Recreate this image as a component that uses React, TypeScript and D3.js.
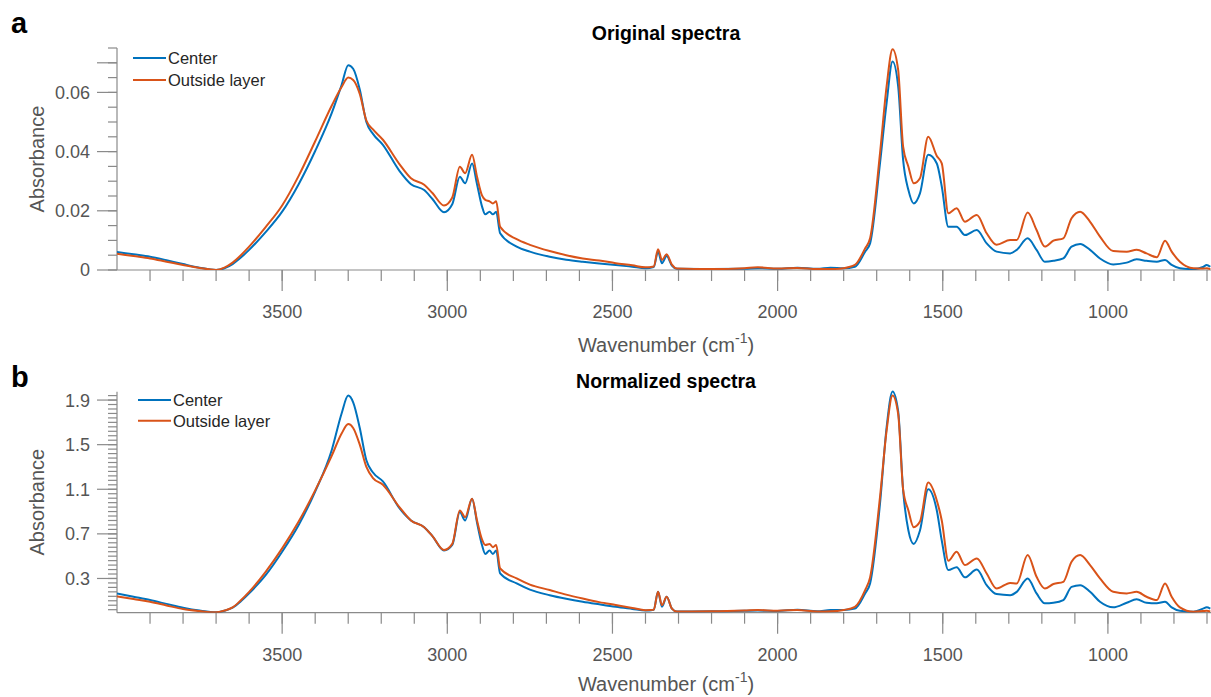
import React from "react";
import * as d3 from "d3";

// Wavenumber grid (cm^-1), high to low
const wavenumbers = [
  4000, 3950, 3900, 3850, 3800, 3750, 3700, 3675, 3650, 3625, 3600, 3550, 3500, 3450, 3400, 3350,
  3320, 3300, 3285, 3265, 3245, 3225, 3195, 3145, 3110, 3070, 3045, 3010, 2985, 2962, 2946, 2925,
  2910, 2895, 2885, 2872, 2862, 2852, 2840, 2790, 2750, 2690, 2640, 2590, 2540, 2490, 2440, 2400,
  2375, 2362, 2350, 2336, 2320, 2305, 2200, 2100, 2060, 2000, 1940, 1880, 1840, 1800, 1766, 1735,
  1720, 1690, 1670, 1652, 1635, 1620, 1604, 1588, 1569, 1544, 1518, 1503, 1483, 1458, 1433, 1397,
  1367, 1337, 1296, 1276, 1243, 1216, 1191, 1165, 1135, 1110, 1084, 1054, 1024, 984, 943, 913,
  883, 852, 827, 807, 782, 741, 712, 701, 690,
];

// Panel a: original absorbance
const originalCenter = [
  0.0061, 0.0053, 0.0045, 0.0033, 0.002, 0.0008, 0.0, 0.0006, 0.002, 0.0042, 0.0068, 0.0128, 0.0197, 0.029, 0.0402, 0.053,
  0.0625, 0.0692, 0.068, 0.061, 0.05, 0.046, 0.0423, 0.0335, 0.029, 0.027, 0.024, 0.0195, 0.0222, 0.0315, 0.0293, 0.036,
  0.029, 0.0215, 0.0188, 0.0197, 0.0188, 0.0197, 0.0124, 0.0079, 0.0062, 0.0045, 0.0035, 0.0028, 0.0022, 0.0017, 0.0011, 0.0006,
  0.001, 0.0062, 0.0023, 0.0047, 0.0015, 0.0004, 0.0003, 0.0004, 0.0006, 0.0004, 0.0008, 0.0004, 0.0008, 0.0006, 0.0011, 0.0062,
  0.009, 0.036, 0.0564, 0.0704, 0.062, 0.0372, 0.027, 0.0225, 0.0259, 0.0389, 0.036, 0.0282, 0.0146, 0.0146, 0.0118, 0.0135,
  0.009, 0.0062, 0.0056, 0.0068, 0.0107, 0.0068, 0.0028, 0.0031, 0.0039, 0.0079, 0.0088, 0.0068, 0.0039, 0.0019, 0.0025, 0.0036,
  0.0031, 0.0028, 0.0034, 0.0017, 0.0006, 0.0003, 0.001, 0.0017, 0.0011,
];
const originalOutside = [
  0.0055, 0.0047, 0.0039, 0.0028, 0.0017, 0.0007, 0.0, 0.0008, 0.0025, 0.005, 0.0079, 0.0145, 0.0218, 0.0318, 0.0435, 0.0555,
  0.0618, 0.065, 0.0642, 0.0595, 0.0505, 0.0475, 0.044, 0.0358, 0.031, 0.0288, 0.026, 0.0218, 0.0245, 0.0349, 0.0327, 0.0389,
  0.0315, 0.0252, 0.0237, 0.0232, 0.0225, 0.0232, 0.0146, 0.0104, 0.0085, 0.0064, 0.005, 0.0039, 0.0032, 0.0023, 0.0016, 0.0009,
  0.0012, 0.007, 0.0034, 0.0053, 0.0018, 0.0005, 0.0003, 0.0006, 0.0009, 0.0005, 0.0007, 0.0003, 0.0003, 0.0006, 0.0017, 0.0073,
  0.0107, 0.0394, 0.062, 0.0746, 0.0676, 0.0417, 0.0349, 0.0293, 0.031, 0.045, 0.0385, 0.036, 0.0192, 0.0209, 0.0163, 0.0186,
  0.0124, 0.0085, 0.0101, 0.0101, 0.0194, 0.0135, 0.0079, 0.0099, 0.0107, 0.0175, 0.0197, 0.0163, 0.0113, 0.0064, 0.0062, 0.0068,
  0.0056, 0.0043, 0.0099, 0.0062, 0.0028, 0.0006, 0.0005, 0.0006, 0.0003,
];

// Panel b: normalized absorbance
const normalizedCenter = [
  0.166, 0.136, 0.106, 0.072, 0.038, 0.012, -0.004, 0.01, 0.038, 0.095, 0.166, 0.33, 0.54, 0.78, 1.08, 1.45,
  1.78, 1.94, 1.88, 1.65, 1.36, 1.25, 1.17, 0.93, 0.82, 0.76, 0.68, 0.55, 0.6, 0.895, 0.82, 1.015,
  0.8, 0.6, 0.52, 0.55, 0.52, 0.55, 0.345, 0.255, 0.2, 0.15, 0.118, 0.091, 0.068, 0.046, 0.027, 0.012,
  0.02, 0.18, 0.046, 0.136, 0.03, 0.004, 0.005, 0.01, 0.012, 0.008, 0.02, 0.006, 0.017, 0.017, 0.03, 0.166,
  0.255, 0.97, 1.655, 1.977, 1.8, 1.09, 0.73, 0.61, 0.73, 1.1, 0.91, 0.64, 0.375, 0.4, 0.31, 0.38,
  0.24, 0.16, 0.15, 0.18, 0.3, 0.166, 0.077, 0.082, 0.106, 0.225, 0.24, 0.18, 0.091, 0.041, 0.082, 0.113,
  0.082, 0.077, 0.091, 0.041, 0.01, 0.002, 0.03, 0.041, 0.03,
];
const normalizedOutside = [
  0.14, 0.115, 0.091, 0.058, 0.026, 0.008, -0.004, 0.012, 0.04, 0.105, 0.18, 0.36, 0.57, 0.81, 1.09, 1.4,
  1.6, 1.685, 1.65, 1.5, 1.3, 1.2, 1.14, 0.94, 0.82, 0.76, 0.68, 0.555, 0.61, 0.91, 0.85, 1.015,
  0.82, 0.65, 0.6, 0.61, 0.58, 0.6, 0.39, 0.3, 0.245, 0.196, 0.155, 0.12, 0.088, 0.062, 0.036, 0.016,
  0.02, 0.18, 0.06, 0.136, 0.03, 0.004, 0.005, 0.012, 0.017, 0.01, 0.018, 0.004, 0.005, 0.017, 0.046, 0.196,
  0.31, 1.03, 1.625, 1.94, 1.775, 1.1, 0.91, 0.76, 0.81, 1.16, 1.0, 0.82, 0.46, 0.54, 0.42, 0.48,
  0.345, 0.21, 0.26, 0.255, 0.51, 0.315, 0.21, 0.25, 0.27, 0.45, 0.51, 0.42, 0.3, 0.18, 0.166, 0.18,
  0.136, 0.106, 0.255, 0.136, 0.041, 0.002, 0.008, 0.01, 0.004,
];

const seriesNames = ["Center", "Outside layer"];
const seriesColors = ["#0072BD", "#D95319"];

const xLabelTicks = [3500, 3000, 2500, 2000, 1500, 1000];
const xMinorTicks = d3.range(700, 4000, 100);

const yTicksOriginal = [0, 0.02, 0.04, 0.06];
const yTickLabelsOriginal = ["0", "0.02", "0.04", "0.06"];
const yLongUnlabeledOriginal = [0.07];
const yMinorOriginal = d3.range(0, 0.0751, 0.005);

const yTicksNormalized = [0.3, 0.7, 1.1, 1.5, 1.9];
const yTickLabelsNormalized = ["0.3", "0.7", "1.1", "1.5", "1.9"];
const yMinorNormalized = d3.range(0.02, 1.98, 0.04);

const FONT = '"Liberation Sans", Arial, Helvetica, sans-serif';
const AXIS = "#8a8a8a";
const LABEL = "#555555";

const W = 1211;
const H = 697;
const LEFT = 117;
const RIGHT = 1210.3;

const x = d3.scaleLinear().domain([4000, 690]).range([LEFT, RIGHT]);

type PanelProps = {
  id: string;
  letter: string;
  letterY: number;
  title: string;
  titleY: number;
  top: number;
  bottom: number;
  xLabelOffset: number;
  yDomain: [number, number];
  yTicks: number[];
  yTickLabels: string[];
  yLongExtra: number[];
  yMinor: number[];
  series: number[][];
  legendX: number;
  legendY: number;
  legendGap: number;
};

function Panel(p: PanelProps) {
  const y = d3.scaleLinear().domain(p.yDomain).range([p.bottom, p.top]);
  const line = d3
    .line<number>()
    .x((_, i) => x(wavenumbers[i]))
    .y((d) => y(d))
    .curve(d3.curveMonotoneX);

  return (
    <g>
      <defs>
        <clipPath id={p.id}>
          <rect x={LEFT} y={p.top - 4} width={RIGHT - LEFT + 2} height={p.bottom - p.top + 4} />
        </clipPath>
      </defs>

      <text x={11} y={p.letterY} fontFamily={FONT} fontWeight="bold" fontSize={29} fill="#000">
        {p.letter}
      </text>
      <text x={666} y={p.titleY} textAnchor="middle" fontFamily={FONT} fontWeight="bold" fontSize={19.5} fill="#000">
        {p.title}
      </text>

      {/* y axis */}
      <line x1={LEFT} x2={LEFT} y1={p.top} y2={p.bottom} stroke={AXIS} strokeWidth={1.2} />
      {p.yMinor.map((t) => (
        <line key={"ym" + t} x1={LEFT - 9} x2={LEFT} y1={y(t)} y2={y(t)} stroke={AXIS} strokeWidth={1.2} />
      ))}
      {[...p.yTicks, ...p.yLongExtra].map((t) => (
        <line key={"yM" + t} x1={LEFT - 20} x2={LEFT} y1={y(t)} y2={y(t)} stroke={AXIS} strokeWidth={1.2} />
      ))}
      {p.yTicks.map((t, i) => (
        <text
          key={"yl" + t}
          x={LEFT - 27}
          y={y(t)}
          dy="0.36em"
          textAnchor="end"
          fontFamily={FONT}
          fontSize={18}
          fill={LABEL}
        >
          {p.yTickLabels[i]}
        </text>
      ))}
      <text
        transform={`translate(44,${(p.top + p.bottom) / 2}) rotate(-90)`}
        textAnchor="middle"
        fontFamily={FONT}
        fontSize={20}
        fill={LABEL}
      >
        Absorbance
      </text>

      {/* x axis */}
      <line x1={LEFT} x2={W} y1={p.bottom} y2={p.bottom} stroke={AXIS} strokeWidth={1.2} />
      {xMinorTicks.map((t) => (
        <line key={"xm" + t} x1={x(t)} x2={x(t)} y1={p.bottom} y2={p.bottom + 11} stroke={AXIS} strokeWidth={1.2} />
      ))}
      {xLabelTicks.map((t) => (
        <line key={"xM" + t} x1={x(t)} x2={x(t)} y1={p.bottom} y2={p.bottom + 21} stroke={AXIS} strokeWidth={1.2} />
      ))}
      {xLabelTicks.map((t) => (
        <text
          key={"xl" + t}
          x={x(t)}
          y={p.bottom + 48}
          textAnchor="middle"
          fontFamily={FONT}
          fontSize={18}
          fill={LABEL}
        >
          {t}
        </text>
      ))}
      <text x={666} y={p.bottom + p.xLabelOffset} textAnchor="middle" fontFamily={FONT} fontSize={20} fill={LABEL}>
        Wavenumber (cm
        <tspan dy={-9} fontSize={14}>
          -1
        </tspan>
        <tspan dy={9}>)</tspan>
      </text>

      {/* spectra */}
      <g clipPath={`url(#${p.id})`}>
        {p.series.map((s, i) => (
          <path
            key={"s" + i}
            d={line(s) || ""}
            fill="none"
            stroke={seriesColors[i]}
            strokeWidth={2}
            strokeLinejoin="round"
          />
        ))}
      </g>

      {/* legend */}
      {seriesNames.map((name, i) => (
        <g key={"lg" + i}>
          <line
            x1={p.legendX}
            x2={p.legendX + 33}
            y1={p.legendY + i * p.legendGap}
            y2={p.legendY + i * p.legendGap}
            stroke={seriesColors[i]}
            strokeWidth={2}
          />
          <text
            x={p.legendX + 35}
            y={p.legendY + i * p.legendGap}
            dy="0.36em"
            fontFamily={FONT}
            fontSize={16.5}
            fill="#262626"
          >
            {name}
          </text>
        </g>
      ))}
    </g>
  );
}

export default function App() {
  return (
    <svg
      width={W}
      height={H}
      viewBox={`0 0 ${W} ${H}`}
      style={{ position: "absolute", left: 0, top: 0, background: "#fff" }}
    >
      <rect x={0} y={0} width={W} height={H} fill="#fff" />
      <Panel
        id="clip-a"
        letter="a"
        letterY={33}
        title="Original spectra"
        titleY={40}
        top={48}
        bottom={270}
        xLabelOffset={82}
        yDomain={[0, 0.075]}
        yTicks={yTicksOriginal}
        yTickLabels={yTickLabelsOriginal}
        yLongExtra={yLongUnlabeledOriginal}
        yMinor={yMinorOriginal}
        series={[originalCenter, originalOutside]}
        legendX={133}
        legendY={58}
        legendGap={22}
      />
      <Panel
        id="clip-b"
        letter="b"
        letterY={387}
        title="Normalized spectra"
        titleY={388}
        top={391.7}
        bottom={612.7}
        xLabelOffset={78}
        yDomain={[-0.007, 1.975]}
        yTicks={yTicksNormalized}
        yTickLabels={yTickLabelsNormalized}
        yLongExtra={[]}
        yMinor={yMinorNormalized}
        series={[normalizedCenter, normalizedOutside]}
        legendX={138}
        legendY={400}
        legendGap={20.7}
      />
    </svg>
  );
}
